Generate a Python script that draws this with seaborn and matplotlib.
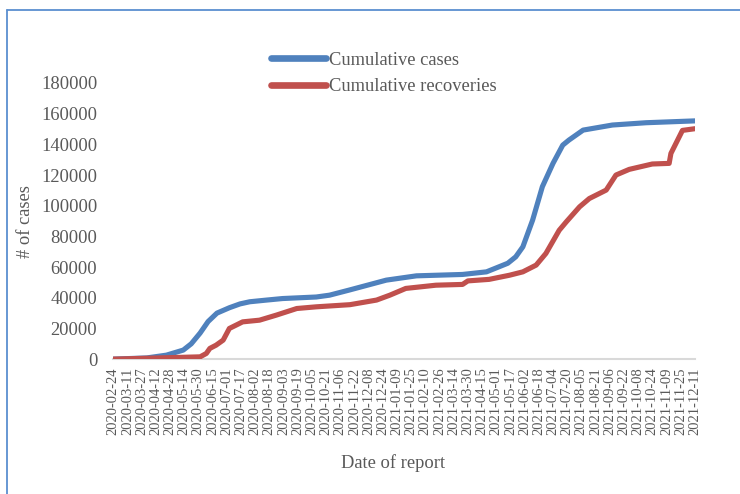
import matplotlib
matplotlib.use("Agg")
import pandas as pd
import seaborn as sns
import matplotlib.pyplot as plt
from matplotlib.lines import Line2D

# ---- data ----
cases_dates = ["2020-02-24", "2020-04-02", "2020-04-24", "2020-05-13", "2020-05-22",
               "2020-06-01", "2020-06-10", "2020-06-20", "2020-07-04", "2020-07-16",
               "2020-07-27", "2020-08-15", "2020-09-02", "2020-10-10", "2020-10-25",
               "2020-11-16", "2020-12-28", "2021-01-31", "2021-03-24", "2021-04-20",
               "2021-05-14", "2021-05-23", "2021-05-31", "2021-06-11", "2021-06-22",
               "2021-07-04", "2021-07-15", "2021-07-22", "2021-08-07", "2021-09-09",
               "2021-10-17", "2021-12-11"]
cases_values = [0, 800, 2600, 5900, 10000,
                17000, 24500, 30000, 33500, 36000,
                37400, 38500, 39500, 40500, 41700,
                45000, 51500, 54300, 55200, 56900,
                62500, 66700, 73200, 90600, 112400,
                127600, 139500, 142800, 149300, 152600,
                154100, 155300]

recov_dates = ["2020-02-24", "2020-06-01", "2020-06-08", "2020-06-12", "2020-06-19",
               "2020-06-27", "2020-07-04", "2020-07-19", "2020-08-07", "2020-08-26",
               "2020-09-18", "2020-10-10", "2020-11-17", "2020-12-17", "2021-01-01",
               "2021-01-19", "2021-02-22", "2021-03-24", "2021-03-30", "2021-04-23",
               "2021-05-16", "2021-05-31", "2021-06-15", "2021-06-26", "2021-07-11",
               "2021-07-19", "2021-08-03", "2021-08-14", "2021-09-02", "2021-09-13",
               "2021-09-28", "2021-10-24", "2021-11-12", "2021-11-14", "2021-11-27",
               "2021-12-11"]
recov_values = [0, 1500, 3700, 7000, 9100,
                12400, 20000, 24300, 25400, 28700,
                33000, 34100, 35500, 38500, 41700,
                46100, 48200, 48700, 51000, 52000,
                54700, 56900, 61300, 68900, 84000,
                89500, 99300, 104700, 110200, 120000,
                123700, 127200, 127600, 134100, 149100,
                150200]

series_names = ["Cumulative cases", "Cumulative recoveries"]

tick_labels = ["2020-02-24", "2020-03-11", "2020-03-27", "2020-04-12", "2020-04-28",
               "2020-05-14", "2020-05-30", "2020-06-15", "2020-07-01", "2020-07-17",
               "2020-08-02", "2020-08-18", "2020-09-03", "2020-09-19", "2020-10-05",
               "2020-10-21", "2020-11-06", "2020-11-22", "2020-12-08", "2020-12-24",
               "2021-01-09", "2021-01-25", "2021-02-10", "2021-02-26", "2021-03-14",
               "2021-03-30", "2021-04-15", "2021-05-01", "2021-05-17", "2021-06-02",
               "2021-06-18", "2021-07-04", "2021-07-20", "2021-08-05", "2021-08-21",
               "2021-09-06", "2021-09-22", "2021-10-08", "2021-10-24", "2021-11-09",
               "2021-11-25", "2021-12-11"]
y_ticks = [0, 20000, 40000, 60000, 80000, 100000, 120000, 140000, 160000, 180000]

# ---- build long-form table ----
df = pd.concat([
    pd.DataFrame({"date": pd.to_datetime(cases_dates), "value": cases_values,
                  "series": series_names[0]}),
    pd.DataFrame({"date": pd.to_datetime(recov_dates), "value": recov_values,
                  "series": series_names[1]}),
], ignore_index=True)

sns.set_theme(style="white")
plt.rcParams["font.family"] = ["Liberation Serif", "DejaVu Serif"]
text_color = "#595959"

fig = plt.figure(figsize=(7.4, 4.94), dpi=100)
ax = fig.add_axes([0.153, 0.273, 0.786, 0.559])

palette = {series_names[0]: "#4F81BD", series_names[1]: "#C0504D"}
sns.lineplot(data=df, x="date", y="value", hue="series", palette=palette,
             linewidth=3.7, ax=ax, legend=False, solid_capstyle="round",
             solid_joinstyle="round")

ax.set_xlim(pd.Timestamp(tick_labels[0]), pd.Timestamp(tick_labels[-1]))
ax.set_ylim(0, 180000)
ax.set_xticks(pd.to_datetime(tick_labels))
ax.set_xticklabels(tick_labels, rotation=90, fontsize=10.5, color=text_color)
ax.set_yticks(y_ticks)
ax.set_yticklabels([str(v) for v in y_ticks], fontsize=13.3, color=text_color)
ax.tick_params(axis="x", length=0, pad=6)
ax.tick_params(axis="y", length=0, pad=11.5)

for s in ["top", "right", "left"]:
    ax.spines[s].set_visible(False)
ax.spines["bottom"].set_color("#D9D9D9")
ax.spines["bottom"].set_linewidth(1.5)
ax.spines["bottom"].set_zorder(0)
ax.grid(False)

ax.set_xlabel("Date of report", fontsize=13.3, color=text_color)
ax.set_ylabel("# of cases", fontsize=13.3, color=text_color)
ax.xaxis.set_label_coords(0.481, -0.377)
ax.yaxis.set_label_coords(-0.15, 0.50)
ax.xaxis.label.set_va("center")
ax.yaxis.label.set_va("center")

handles = [Line2D([0], [0], color=palette[n], linewidth=4.8, solid_capstyle="round")
           for n in series_names]
fig.legend(handles, series_names, loc="upper left", bbox_to_anchor=(0.366, 0.895),
           frameon=False, fontsize=13.3, labelcolor=text_color, handlelength=3.0,
           handletextpad=0.15, labelspacing=0.5, borderpad=0, borderaxespad=0)

# figure border (top and left edges visible in the reference)
border_color = "#5B8FD0"
fig.add_artist(Line2D([0.0095, 1.0], [0.979, 0.979], color=border_color,
                      linewidth=1.3, transform=fig.transFigure))
fig.add_artist(Line2D([0.0095, 0.0095], [0.0, 0.979], color=border_color,
                      linewidth=1.3, transform=fig.transFigure))

fig.savefig("out.png", dpi=100)
